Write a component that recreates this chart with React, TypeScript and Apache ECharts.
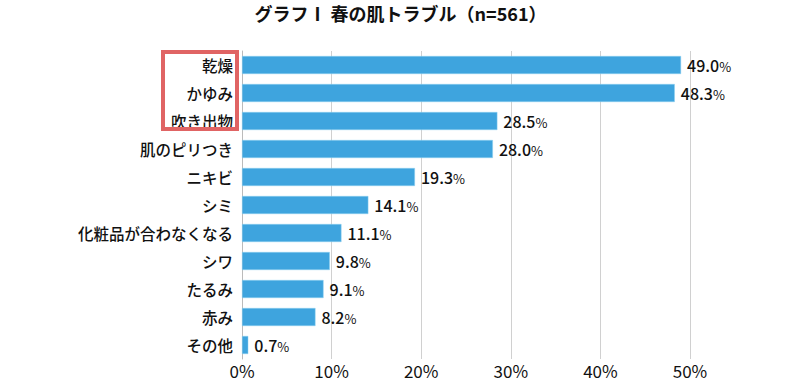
import React, { useEffect, useRef } from "react";
import * as echarts from "echarts";

const titleText = "グラフⅠ 春の肌トラブル（n=561）";
const categories = [
  "乾燥",
  "かゆみ",
  "吹き出物",
  "肌のピリつき",
  "ニキビ",
  "シミ",
  "化粧品が合わなくなる",
  "シワ",
  "たるみ",
  "赤み",
  "その他",
];
const values = [49.0, 48.3, 28.5, 28.0, 19.3, 14.1, 11.1, 9.8, 9.1, 8.2, 0.7];
const axisMax = 50;
const axisInterval = 10;

const FONT = '"Noto Sans CJK JP", "Noto Sans", sans-serif';

export default function App() {
  const ref = useRef<HTMLDivElement>(null);
  useEffect(() => {
    if (!ref.current) return;
    const chart = echarts.init(ref.current, null, { renderer: "svg" });
    chart.setOption({
      animation: false,
      backgroundColor: "#ffffff",
      textStyle: { fontFamily: FONT },
      title: {
        text: titleText,
        left: "center",
        top: -1,
        textStyle: { fontSize: 18, fontWeight: "bold", color: "#111", fontFamily: FONT },
      },
      grid: { left: 242, right: 111, top: 51, bottom: 24, containLabel: false },
      xAxis: {
        type: "value",
        min: 0,
        max: axisMax,
        interval: axisInterval,
        axisLine: { show: false },
        axisTick: { show: false },
        splitLine: { show: true, lineStyle: { color: "#d0d0d0", width: 1 } },
        axisLabel: {
          formatter: "{value}%",
          fontSize: 17,
          color: "#111",
          margin: 3,
          fontFamily: FONT,
        },
      },
      yAxis: {
        type: "category",
        data: categories,
        inverse: true,
        axisLine: { show: true, lineStyle: { color: "#bbbbbb", width: 1 } },
        axisTick: { show: false },
        axisLabel: { fontSize: 15.5, color: "#111", margin: 9, fontFamily: FONT, fontWeight: 500 },
      },
      series: [
        {
          type: "bar",
          data: values,
          barWidth: 18,
          itemStyle: { color: "#3ea4de", borderColor: "#8fd0f0", borderWidth: 0.5 },
          label: {
            show: true,
            position: "right",
            distance: 6,
            formatter: (p: any) => `{num|${Number(p.value).toFixed(1)}}{pct|%}`,
            rich: {
              num: { fontSize: 16, color: "#111", fontFamily: FONT, fontWeight: 500 },
              pct: { fontSize: 13, color: "#111", fontFamily: FONT, padding: [2, 0, 0, 0] },
            },
          },
        },
      ],
      graphic: [
        {
          type: "rect",
          shape: { x: 163, y: 52, width: 74, height: 77 },
          style: { fill: "none", stroke: "#e06464", lineWidth: 4 },
          z: 100,
        },
      ],
    });
    return () => chart.dispose();
  }, []);
  return (
    <div
      ref={ref}
      style={{ width: 801, height: 383, position: "absolute", left: 0, top: 0 }}
    />
  );
}
